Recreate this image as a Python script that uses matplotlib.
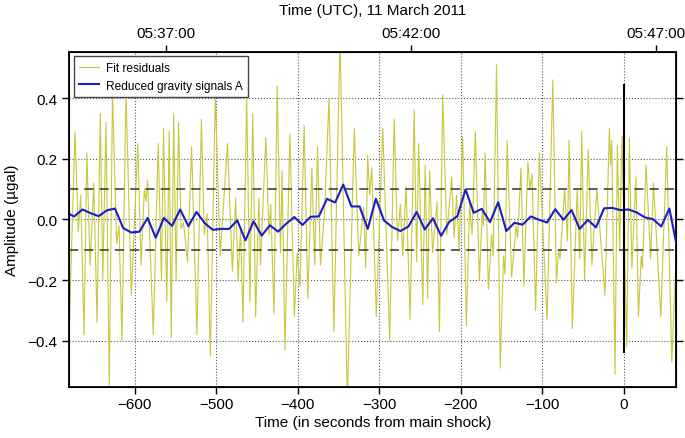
import numpy as np
import matplotlib
matplotlib.use("Agg")
import matplotlib.pyplot as plt

plt.rcParams['font.family'] = ['Liberation Sans', 'DejaVu Sans']

# ---- data ----
# Fit residuals: (time [s from main shock], amplitude [ugal]) at turning points
resid_t = [-681, -673, -669, -666, -662, -658.5, -654.5, -650, -646, -642, -639, -635,
           -631, -627, -622, -619, -615.5, -610.5, -604, -596, -592, -588, -586, -584,
           -577, -571, -567, -564.5, -560.5, -557.5, -555, -552, -549, -546, -543, -540,
           -535, -530, -523.5, -518, -514.5, -511, -507, -501, -495, -486, -480, -476,
           -473, -470, -467, -462.5, -458.5, -455, -451.5, -447.5, -445.5, -439, -435,
           -433, -429, -425, -421, -419, -415.5, -409.5, -404, -400.5, -397, -392,
           -387.5, -382.5, -379, -375.5, -372, -367, -361.5, -355.5, -348, -339, -330.5,
           -325, -319, -316.5, -314, -311.5, -309, -303.5, -295.5, -287, -281.5, -277.5,
           -274, -271, -267, -262, -257, -254, -251.5, -246.5, -243.5, -240.5, -238,
           -234.5, -229, -226, -222, -217, -211, -208, -205, -202, -197.5, -193, -189,
           -186, -182, -177, -173.5, -172, -170, -166, -162, -160, -156, -151.5, -147.5,
           -145.5, -143, -137.5, -132, -130, -126, -122.5, -117.5, -115, -112.5, -108,
           -103.5, -94, -87, -82.5, -80, -78, -72.5, -69, -67, -63, -57, -54, -51.5, -48,
           -43.5, -39, -33, -23, -17.6, -16, -14.7, -10.7, -7.8, -5, -2.1, 3.7, 6.9, 10,
           15, 18, 21.5, 23, 27.4, 33, 36.5, 45.5, 52.7, 59, 66]
resid_v = [-0.44, 0.29, -0.04, 0.08, -0.38, 0.22, -0.15, 0.12, -0.34, 0.35, -0.20, 0.32,
           -0.55, 0.42, -0.08, -0.02, -0.40, 0.42, -0.25, 0.25, -0.15, 0.10, 0.06, 0.13,
           -0.38, 0.25, -0.20, 0.30, -0.27, 0.29, -0.39, 0.35, -0.20, 0.32, -0.03, -0.01,
           -0.14, 0.24, -0.38, 0.33, -0.05, 0.02, -0.45, 0.41, -0.12, 0.25, -0.17, 0.07,
           -0.20, -0.03, -0.34, 0.41, -0.27, 0.35, -0.32, 0.07, -0.15, 0.27, -0.05,
           0.05, -0.31, 0.44, -0.11, 0.16, -0.43, 0.28, -0.32, -0.11, -0.22, 0.31,
           -0.26, 0.17, -0.15, 0.24, -0.15, 0.02, 0.40, -0.37, 0.60, -0.60, 0.30,
           -0.12, 0.04, -0.16, 0.21, 0.08, 0.17, -0.32, 0.30, -0.40, 0.33, -0.07,
           0.05, -0.12, 0.11, -0.33, 0.36, -0.14, 0.25, -0.28, 0.18, -0.26, 0.16,
           -0.11, 0.06, -0.37, 0.41, -0.05, 0.14, -0.06, 0.08, -0.10, 0.27, -0.35, 0.05,
           -0.05, 0.29, -0.20, 0.03, -0.02, 0.22, -0.23, -0.05, -0.12, 0.51, -0.49, -0.12,
           -0.18, 0.26, -0.19, -0.02, -0.06, 0.17, -0.22, 0.19, 0.10, 0.15, -0.30,
           0.22, -0.33, 0.46, -0.21, -0.10, -0.13, 0.10, -0.07, 0.26, -0.36, 0.10, -0.13, 0.29, -0.20,
           0.23, -0.15, 0.10, -0.25, 0.30, 0.18, 0.26, -0.51, 0.245, -0.10, 0.275, -0.42, 0.27, -0.16,
           0.14, -0.32, -0.12, -0.16, 0.18, -0.13, 0.12, -0.32, 0.24, -0.47, 0.0]

# Reduced gravity signals A: one value every 10 s starting at -684 s
grav_start, grav_step = -684, 10
grav_v = [0.023, 0.010, 0.033, 0.021, 0.011, 0.030, 0.036, -0.028, -0.043, -0.040,
          0.005, -0.060, 0.005, -0.021, 0.033, -0.022, 0.025, -0.012, -0.034,
          -0.031, -0.031, -0.003, -0.069, -0.006, -0.053, -0.019, -0.040, -0.014,
          0.008, -0.018, 0.009, 0.010, 0.068, 0.056, 0.115, 0.043, 0.043, -0.031,
          0.068, -0.003, -0.025, -0.038, -0.023, 0.025, -0.033, 0.004, -0.054,
          -0.008, 0.011, 0.099, 0.022, 0.035, -0.009, 0.057, -0.038, -0.011, -0.017,
          0.010, -0.001, -0.010, 0.034, -0.001, 0.031, -0.031, -0.001, -0.026,
          0.037, 0.038, 0.031, 0.033, 0.023, 0.007, 0.001, -0.023, 0.036, -0.100]
grav_t = grav_start + grav_step * np.arange(len(grav_v))

threshold = 0.1
shock_line = (-0.44, 0.445)
bottom_ticks = [-600, -500, -400, -300, -200, -100, 0]
y_ticks = [-0.4, -0.2, 0.0, 0.2, 0.4]
utc_labels = ['05:37:00', '05:42:00', '05:47:00']
shock_utc_sec = 5 * 3600 + 46 * 60 + 21   # main shock time (UTC)

# ---- figure ----
fig = plt.figure(figsize=(6.85, 4.39), dpi=100)
ax = fig.add_axes([0.1012, 0.1162, 0.8861, 0.7631])

ax.plot(resid_t, resid_v, color='#c8c83c', lw=0.8, label='Fit residuals', zorder=2)
ax.plot(grav_t, grav_v, color='#1c1cc8', lw=1.5, label='Reduced gravity signals A', zorder=4)
ax.axhline(threshold, color='#333333', lw=1.1, ls=(0, (6, 4)), zorder=3)
ax.axhline(-threshold, color='#333333', lw=1.1, ls=(0, (6, 4)), zorder=3)
ax.vlines(0, shock_line[0], shock_line[1], color='black', lw=1.5, zorder=5)

ax.set_xlim(-680, 64.5)
ax.set_ylim(-0.552, 0.552)
ax.set_xticks(bottom_ticks)
ax.set_xticklabels(['\u2212%d' % -v if v < 0 else '%d' % v for v in bottom_ticks])
ax.set_yticks(y_ticks)
ax.set_yticklabels(['\u2212%.1f' % -v if v < 0 else '%.1f' % v for v in y_ticks])
ax.grid(True, ls=':', color='#555555', lw=0.8)
ax.tick_params(direction='out', length=5, width=1, labelsize=11, right=True, top=False)
ax.tick_params(axis='x', pad=2)
for s in ax.spines.values():
    s.set_linewidth(1.3)
ax.set_xlabel('Time (in seconds from main shock)', fontsize=11, labelpad=3)
ax.set_ylabel('Amplitude (\u00b5gal)', fontsize=11, labelpad=6)

ax2 = ax.twiny()
ax2.set_xlim(ax.get_xlim())
utc_pos = []
for lab in utc_labels:
    h, m, s = (int(p) for p in lab.split(':'))
    utc_pos.append(h * 3600 + m * 60 + s - shock_utc_sec)
ax2.set_xticks(utc_pos)
ax2.set_xticklabels(utc_labels)
ax2.tick_params(direction='out', length=5, width=1, labelsize=11)
ax2.set_xlabel('Time (UTC), 11 March 2011', fontsize=11, labelpad=9)

leg = ax.legend(loc='upper left', fontsize=8.6, frameon=True, fancybox=False,
                edgecolor='#444444', handlelength=1.6, handletextpad=0.6,
                borderpad=0.5, labelspacing=0.45, borderaxespad=0.35, framealpha=1)
leg.get_frame().set_linewidth(1.0)

fig.savefig('out.png', dpi=100)
